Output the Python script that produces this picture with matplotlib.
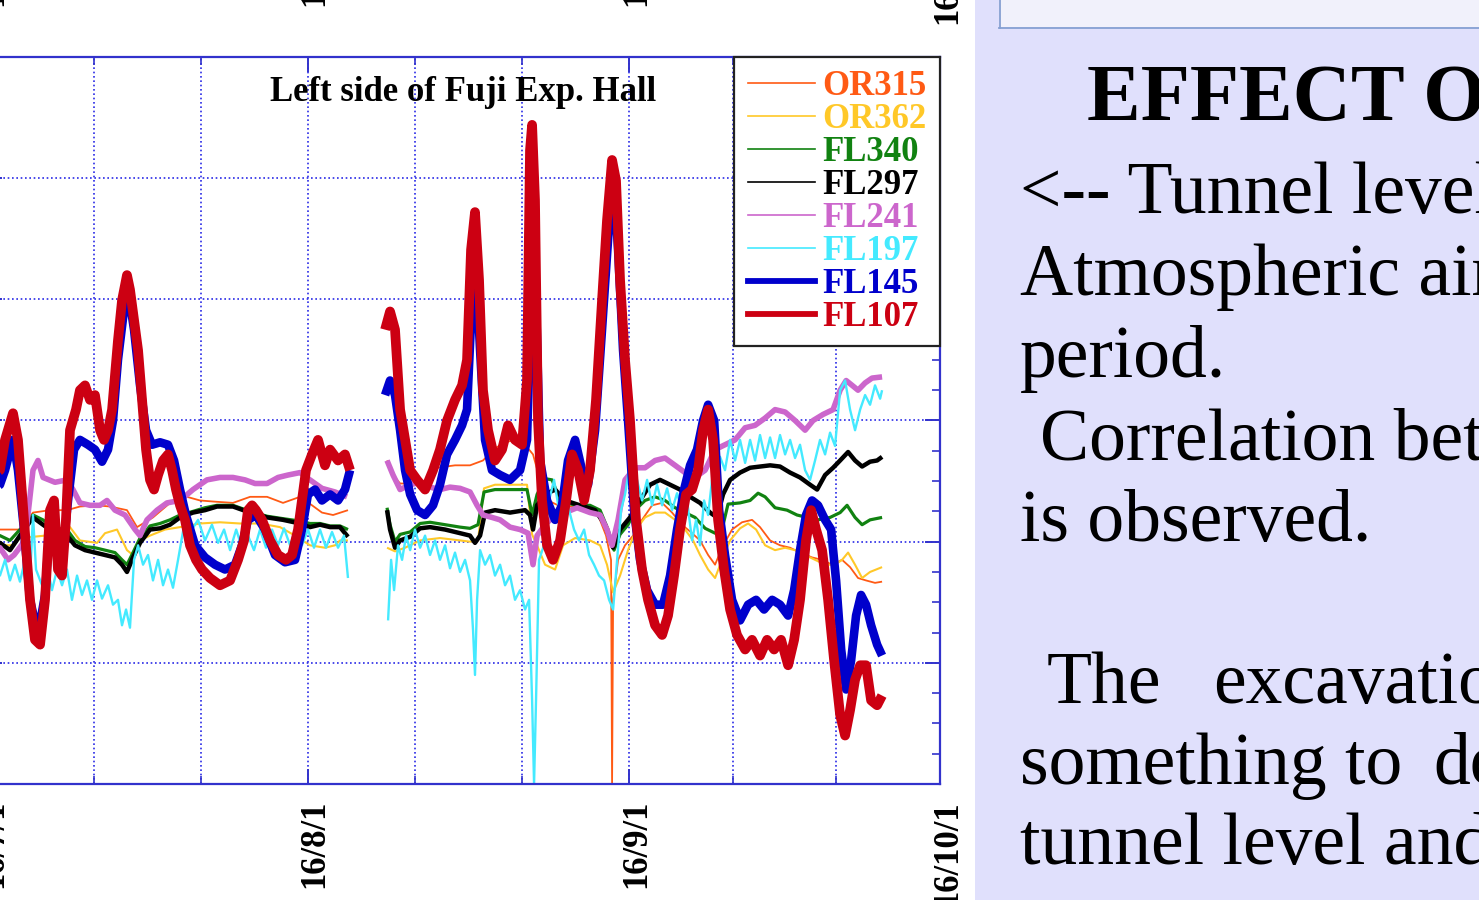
import numpy as np
import matplotlib
matplotlib.use("Agg")
import matplotlib.pyplot as plt
import matplotlib.transforms as mtransforms
from matplotlib.patches import Rectangle
from matplotlib.lines import Line2D
from matplotlib.ticker import MultipleLocator

nan = np.nan

# ---------------- data (x: days since 2016-07-01, y: tunnel level, arbitrary units) -------------
date_labels = ['16/7/1', '16/8/1', '16/9/1', '16/10/1']
date_days = [0, 31, 62, 92]
minor_days = [10.33, 20.67, 41.33, 51.67, 72, 82]

series_names = ['OR315', 'OR362', 'FL340', 'FL297', 'FL241', 'FL197', 'FL145', 'FL107']
series_colors = ['#ff5a14', '#ffc828', '#118211', '#000000', '#cc66cc', '#44eaff', '#0000cc', '#cc0012']

or315_t = [0.0, 1.27, 3.20, 4.46, 6.10, 7.74, 8.99, 10.64, 11.89, 13.53, 14.50, 16.04, 17.97, 19.32, 20.58,
           22.03, 23.76, 25.41, 27.05, 28.59, 30.23, 31.39, 32.35, 33.42, 34.86, nan,
           38.63, 39.21, 39.89, 41.33, 42.78, 43.46, 45.19, 46.64, 47.89, 49.05,
           50.02, 50.98, 51.95, 52.72, 53.40, 54.17, 55.14, 56.29, 57.74, 59.00,
           59.77, 60.25, 60.35, 60.45, 60.93, 61.60, 62.38, 63.24, 64.21, 65.18,
           66.14, 67.10, 68.07, 68.84, 69.62, 70.29, 70.96, 71.93, 72.89, 73.86,
           74.63, 75.60, 76.56, 77.53, 78.49, 79.65, 80.62, 81.58, 82.55, 83.32,
           84.09, 84.86, 85.73, 86.41]
or315_v = [2.08, 2.10, 2.10, 2.24, 2.26, 2.26, 2.29, 2.30, 2.29, 2.26, 2.12, 2.20, 2.34, 2.37, 2.34,
           2.33, 2.32, 2.37, 2.37, 2.32, 2.37, 2.30, 2.24, 2.22, 2.26, nan,
           2.67, 2.55, 2.48, 2.48, 2.49, 2.61, 2.63, 2.63, 2.67, 2.77,
           2.82, 2.84, 2.80, 2.72, 2.51, 2.34, 2.30, 2.29, 2.28, 2.22,
           2.05, 1.85, 0.00, 1.52, 1.85, 1.97, 2.05, 2.18, 2.30, 2.32,
           2.24, 2.14, 2.07, 2.01, 1.89, 1.81, 1.95, 2.10, 2.16, 2.18,
           2.12, 2.01, 1.97, 1.95, 1.91, 1.87, 1.85, 1.81, 1.85, 1.79,
           1.70, 1.68, 1.66, 1.67]

or362_t = [0.0, 1.27, 2.53, 3.20, 4.46, 5.62, 7.07, 8.03, 8.99, 10.64, 11.41, 12.57, 13.53, 14.11, 14.79,
           15.75, 17.20, 18.65, 20.58, 22.51, 24.44, 26.37, 28.30, 29.75, 31.19, 32.64, 33.61, 34.09, 34.86, nan,
           38.63, 39.40, 40.37, 41.82, 43.74, 45.68, 46.64, 47.41, 47.99, 49.05,
           50.50, 52.14, 52.63, 53.11, 53.88, 54.85, 55.62, 56.78, 58.22, 59.19,
           59.86, 60.45, 61.12, 61.89, 62.66, 63.53, 64.50, 65.46, 66.43, 67.39,
           68.17, 68.84, 69.62, 70.29, 70.96, 71.74, 72.70, 73.48, 74.25, 75.12,
           76.08, 77.05, 78.01, 78.98, 79.94, 80.91, 81.87, 82.55, 83.13, 83.80,
           84.48, 85.25, 86.41]
or362_v = [2.01, 1.97, 1.97, 2.03, 2.04, 2.05, 2.08, 2.12, 2.01, 1.99, 2.07, 2.10, 1.93, 1.89, 2.01,
           2.05, 2.10, 2.12, 2.15, 2.16, 2.15, 2.15, 2.12, 2.05, 1.97, 1.95, 1.97, 2.01, 2.01, nan,
           1.95, 1.92, 1.95, 2.01, 2.03, 2.01, 2.00, 2.01, 2.44, 2.47,
           2.47, 2.47, 2.06, 1.97, 1.81, 1.77, 1.97, 2.03, 2.01, 1.97,
           1.81, 1.58, 1.72, 1.93, 2.10, 2.20, 2.24, 2.24, 2.18, 2.10,
           2.01, 1.89, 1.77, 1.70, 1.85, 2.01, 2.11, 2.15, 2.10, 1.97,
           1.93, 1.95, 1.93, 1.89, 1.85, 1.81, 1.81, 1.85, 1.91, 1.81,
           1.70, 1.75, 1.79]

fl340_t = [0.0, 1.27, 2.24, 3.20, 4.46, 5.42, 6.58, 7.74, 8.51, 9.48, 10.44, 11.41, 12.37, 13.05, 13.53,
           14.11, 14.79, 15.75, 16.72, 17.68, 18.65, 19.90, 21.06, 22.22, 23.76, 25.41, 27.05, 28.59, 30.23,
           31.19, 32.16, 33.13, 34.09, 34.86, nan,
           38.63, 38.92, 39.40, 39.89, 40.86, 41.82, 42.78, 44.23, 45.68, 46.64,
           47.41, 47.99, 49.05, 50.50, 52.14, 52.63, 53.11, 53.88, 54.56, 55.33,
           56.78, 58.22, 59.19, 59.96, 60.54, 61.12, 61.89, 62.57, 63.53, 64.50,
           65.46, 66.43, 67.39, 68.36, 69.33, 70.29, 70.96, 71.54, 72.70, 73.67,
           74.44, 75.12, 76.08, 77.24, 78.20, 79.17, 80.23, 81.39, 82.36, 83.03,
           83.80, 84.48, 85.25, 86.41]
fl340_v = [2.05, 2.05, 2.01, 2.10, 2.22, 2.18, 2.11, 2.10, 2.01, 1.96, 1.95, 1.93, 1.91, 1.85, 1.81,
           1.91, 2.03, 2.13, 2.15, 2.18, 2.22, 2.25, 2.28, 2.30, 2.30, 2.25, 2.21, 2.19, 2.17,
           2.15, 2.15, 2.13, 2.13, 2.10, nan,
           2.28, 2.14, 2.00, 2.06, 2.08, 2.15, 2.16, 2.14, 2.12, 2.11,
           2.14, 2.41, 2.43, 2.43, 2.43, 2.22, 2.39, 2.52, 2.51, 2.34,
           2.30, 2.30, 2.26, 2.10, 1.93, 2.06, 2.14, 2.26, 2.34, 2.37,
           2.34, 2.28, 2.24, 2.20, 2.11, 2.07, 2.10, 2.31, 2.32, 2.34,
           2.40, 2.37, 2.28, 2.26, 2.22, 2.20, 2.18, 2.20, 2.24, 2.30,
           2.20, 2.14, 2.18, 2.20]

fl297_t = [0.0, 1.27, 2.24, 3.20, 4.46, 5.42, 6.58, 7.74, 8.51, 9.48, 10.44, 11.41, 12.37, 13.05, 13.53,
           14.11, 14.79, 15.75, 16.72, 17.68, 18.65, 19.90, 21.06, 22.22, 23.76, 25.41, 27.05, 28.59, 30.23,
           31.19, 32.16, 33.13, 34.09, 34.86, nan,
           38.63, 38.92, 39.40, 39.89, 40.86, 41.82, 42.78, 44.23, 45.68, 46.64,
           47.12, 47.61, 48.09, 49.05, 50.50, 51.95, 52.43, 52.72, 53.11, 53.88,
           54.85, 55.81, 57.26, 58.71, 59.67, 60.45, 61.12, 62.08, 63.05, 64.02,
           64.98, 65.95, 66.91, 67.88, 68.84, 69.81, 70.48, 71.06, 71.74, 72.70,
           73.67, 74.63, 75.60, 76.56, 77.53, 78.49, 79.46, 80.14, 80.91, 81.68,
           82.36, 83.13, 83.80, 84.48, 85.25, 85.93, 86.41]
fl297_v = [2.01, 1.99, 1.93, 2.05, 2.20, 2.14, 2.07, 2.05, 1.97, 1.93, 1.91, 1.89, 1.87, 1.81, 1.75,
           1.87, 1.99, 2.10, 2.11, 2.14, 2.20, 2.24, 2.26, 2.29, 2.29, 2.24, 2.20, 2.18, 2.15,
           2.12, 2.14, 2.12, 2.12, 2.04, nan,
           2.26, 2.10, 1.95, 2.01, 2.04, 2.11, 2.12, 2.10, 2.07, 2.05,
           1.99, 2.05, 2.24, 2.26, 2.24, 2.26, 2.22, 2.10, 2.30, 2.39,
           2.43, 2.34, 2.30, 2.26, 2.14, 1.95, 2.10, 2.20, 2.34, 2.47,
           2.51, 2.47, 2.43, 2.37, 2.32, 2.24, 2.20, 2.39, 2.51, 2.57,
           2.61, 2.62, 2.63, 2.62, 2.57, 2.53, 2.47, 2.43, 2.55, 2.61,
           2.67, 2.74, 2.67, 2.62, 2.66, 2.67, 2.70]

fl241_t = [0.0, 1.27, 2.05, 2.63, 3.69, 4.46, 4.94, 5.43, 6.58, 7.74,
           8.32, 8.99, 9.96, 10.93, 11.60, 12.37, 13.34, 14.31, 14.79, 15.46,
           16.43, 17.39, 18.65, 19.90, 21.25, 22.51, 23.76, 24.92, 25.89, 27.05,
           28.11, 29.07, 30.23, 31.19, 32.35, 33.61, 34.77, nan,
           38.63, 39.21, 39.89, 40.86, 41.82, 42.78, 43.74, 44.71, 45.68, 46.64,
           47.32, 47.89, 48.76, 49.54, 50.50, 51.47, 52.24, 52.72, 53.11, 53.88,
           54.85, 55.81, 56.97, 58.22, 59.19, 59.86, 60.35, 60.93, 61.60, 62.57,
           63.53, 64.50, 65.46, 66.43, 67.39, 68.36, 69.33, 70.29, 71.25, 72.22,
           73.19, 74.15, 75.12, 76.08, 77.05, 78.01, 78.98, 79.75, 80.71, 81.68,
           82.36, 82.94, 83.52, 84.09, 84.77, 85.44, 86.41]
fl241_v = [2.01, 1.95, 1.85, 1.89, 2.01, 2.59, 2.67, 2.53, 2.49, 2.51,
           2.43, 2.32, 2.30, 2.30, 2.34, 2.26, 2.22, 2.10, 2.05, 2.18,
           2.26, 2.32, 2.34, 2.43, 2.51, 2.53, 2.53, 2.51, 2.48, 2.48,
           2.53, 2.55, 2.57, 2.51, 2.44, 2.41, 2.37, nan,
           2.67, 2.55, 2.43, 2.47, 2.49, 2.45, 2.43, 2.45, 2.44, 2.41,
           2.30, 2.22, 2.20, 2.18, 2.12, 2.10, 2.07, 1.81, 2.05, 2.14,
           2.22, 2.24, 2.28, 2.24, 2.22, 2.10, 1.97, 2.18, 2.51, 2.61,
           2.61, 2.67, 2.69, 2.63, 2.57, 2.53, 2.59, 2.76, 2.80, 2.84,
           2.94, 2.96, 3.02, 3.09, 3.07, 3.00, 2.92, 3.00, 3.05, 3.09,
           3.25, 3.33, 3.29, 3.25, 3.31, 3.35, 3.36]

fl197_t = [0.0, 1.27, 1.76, 2.24, 2.72, 3.20, 3.69, 4.17, 4.46, 4.75,
           5.33, 5.81, 6.29, 6.78, 7.26, 7.74, 8.22, 8.71, 9.19, 9.67,
           10.15, 10.64, 11.12, 11.70, 12.18, 12.66, 13.05, 13.44, 13.82, 14.21,
           14.60, 15.08, 15.56, 16.04, 16.53, 17.01, 17.49, 17.97, 18.46, 19.13,
           19.80, 20.39, 21.06, 21.73, 22.32, 22.90, 23.48, 24.07, 24.63, 25.21,
           25.79, 26.37, 26.95, 27.53, 28.11, 28.69, 29.27, 29.85, 30.42, 31.00,
           31.58, 32.16, 32.74, 33.32, 33.90, 34.48, 34.86, nan,
           38.73, 39.02, 39.31, 39.69, 40.08, 40.47, 40.86, 41.33, 41.82, 42.30,
           42.78, 43.26, 43.74, 44.23, 44.71, 45.19, 45.68, 46.16, 46.64, 46.93,
           47.12, 47.32, 47.61, 48.09, 48.57, 49.05, 49.54, 50.02, 50.50, 50.98,
           51.47, 51.95, 52.34, 52.63, 52.82, 53.01, 53.30, 53.78, 54.27, 54.75,
           55.23, 55.71, 56.20, 56.68, 57.16, 57.65, 58.13, 58.61, 59.09, 59.58,
           60.06, 60.45, 60.83, 61.22, 61.60, 61.98, 62.38, 62.76, 63.24, 63.73,
           64.21, 64.69, 65.18, 65.66, 66.14, 66.62, 67.10, 67.59, 68.07, 68.46,
           68.84, 69.23, 69.62, 70.00, 70.39, 70.77, 71.25, 71.74, 72.22, 72.70,
           73.19, 73.67, 74.15, 74.63, 75.12, 75.60, 76.08, 76.56, 77.05, 77.53,
           78.01, 78.49, 78.98, 79.46, 79.94, 80.42, 80.91, 81.39, 81.87, 82.36,
           82.84, 83.32, 83.80, 84.29, 84.77, 85.25, 85.73, 86.22, 86.41]
fl197_v = [1.77, 1.72, 1.85, 1.68, 1.81, 1.67, 1.85, 1.70, 2.22, 1.77,
           1.64, 1.81, 1.60, 1.77, 1.64, 1.77, 1.52, 1.72, 1.56, 1.68,
           1.52, 1.68, 1.53, 1.64, 1.48, 1.52, 1.31, 1.44, 1.29, 1.85,
           1.97, 1.81, 1.89, 1.68, 1.85, 1.64, 1.77, 1.62, 1.85, 2.18,
           2.10, 2.18, 2.01, 2.14, 1.99, 2.10, 1.93, 2.10, 1.95, 2.05,
           1.93, 2.10, 1.95, 2.10, 1.97, 2.11, 1.97, 2.11, 1.97, 2.10,
           1.95, 2.10, 1.95, 2.08, 1.95, 2.05, 1.70, nan,
           1.35, 1.85, 1.60, 1.97, 1.85, 2.05, 1.93, 2.10, 1.95, 2.05,
           1.89, 2.01, 1.85, 1.97, 1.78, 1.91, 1.75, 1.85, 1.68, 1.27,
           0.90, 1.52, 1.93, 1.81, 1.89, 1.72, 1.81, 1.64, 1.72, 1.52,
           1.60, 1.44, 1.52, 0.69, 0.00, 0.69, 1.85, 1.97, 2.34, 2.51,
           2.26, 2.39, 2.26, 2.10, 2.01, 2.10, 1.89, 1.81, 1.72, 1.68,
           1.52, 1.44, 1.85, 2.26, 2.39, 2.59, 2.30, 2.51, 2.34, 2.51,
           2.30, 2.47, 2.30, 2.44, 2.26, 2.40, 2.26, 2.34, 2.01, 2.18,
           1.97, 2.34, 2.22, 2.51, 2.34, 2.70, 2.59, 2.84, 2.67, 2.84,
           2.65, 2.84, 2.67, 2.88, 2.69, 2.86, 2.69, 2.88, 2.72, 2.84,
           2.69, 2.80, 2.59, 2.51, 2.67, 2.84, 2.72, 2.90, 2.79, 3.25,
           3.33, 3.09, 2.92, 3.09, 3.21, 3.13, 3.29, 3.18, 3.25]

fl145_t = [0.0, 1.27, 1.76, 2.53, 3.01, 3.59, 4.17, 4.94, 5.62, 6.10,
           6.68, 7.26, 7.84, 8.42, 8.99, 9.77, 10.44, 11.12, 11.70, 12.18,
           12.66, 13.24, 13.63, 14.21, 14.79, 15.37, 15.95, 16.72, 17.49, 18.07,
           18.65, 19.22, 20.10, 21.06, 22.03, 22.99, 23.96, 24.63, 25.21, 25.98,
           26.85, 27.82, 28.78, 29.75, 30.42, 31.00, 31.68, 32.35, 33.13, 33.90,
           34.57, 35.06, nan,
           38.44, 38.92, 39.40, 39.89, 40.37, 40.86, 41.53, 42.30, 43.07, 43.74,
           44.42, 45.19, 45.87, 46.35, 46.83, 47.22, 47.61, 48.09, 48.76, 49.54,
           50.50, 51.47, 52.14, 52.53, 52.72, 53.01, 53.40, 54.07, 54.85, 55.52,
           56.10, 56.78, 57.45, 58.03, 58.71, 59.38, 59.96, 60.45, 60.93, 61.41,
           61.89, 62.47, 63.05, 63.73, 64.50, 65.27, 65.95, 66.62, 67.30, 67.88,
           68.55, 69.13, 69.62, 70.20, 70.68, 71.25, 71.93, 72.70, 73.48, 74.25,
           75.02, 75.80, 76.56, 77.34, 77.92, 78.49, 79.07, 79.65, 80.23, 80.91,
           81.49, 81.97, 82.46, 82.94, 83.42, 83.90, 84.38, 84.86, 85.35, 85.93,
           86.41]
fl145_v = [2.39, 2.47, 2.59, 2.84, 2.59, 2.10, 1.52, 1.23, 1.56, 2.18,
           2.01, 1.85, 2.34, 2.76, 2.84, 2.80, 2.76, 2.66, 2.76, 3.00,
           3.50, 3.91, 4.08, 3.75, 3.29, 2.92, 2.80, 2.82, 2.80, 2.67,
           2.43, 2.22, 1.97, 1.87, 1.81, 1.77, 1.81, 1.97, 2.18, 2.22,
           2.10, 1.89, 1.83, 1.85, 2.10, 2.39, 2.43, 2.34, 2.39, 2.34,
           2.43, 2.59, nan,
           3.21, 3.33, 3.21, 2.92, 2.59, 2.39, 2.26, 2.22, 2.30, 2.47,
           2.72, 2.84, 2.96, 3.09, 3.99, 4.24, 3.58, 2.84, 2.59, 2.55,
           2.51, 2.59, 2.84, 3.99, 4.82, 3.99, 2.67, 2.34, 2.18, 2.30,
           2.67, 2.84, 2.59, 2.47, 2.92, 3.75, 4.49, 5.07, 4.41, 3.58,
           3.00, 2.26, 1.85, 1.60, 1.48, 1.48, 1.72, 2.10, 2.43, 2.63,
           2.76, 3.00, 3.13, 3.00, 2.26, 1.89, 1.52, 1.35, 1.48, 1.52,
           1.44, 1.52, 1.48, 1.39, 1.60, 1.93, 2.22, 2.34, 2.30, 2.18,
           2.10, 1.68, 1.11, 0.78, 1.02, 1.39, 1.56, 1.48, 1.31, 1.15,
           1.06]

fl107_t = [0.0, 1.27, 1.76, 2.53, 3.01, 3.59, 4.17, 4.65, 5.14, 5.62,
           6.10, 6.49, 6.87, 7.26, 7.64, 8.03, 8.61, 8.99, 9.48, 9.96,
           10.44, 10.93, 11.31, 11.70, 12.09, 12.66, 13.05, 13.53, 13.82, 14.21,
           14.60, 14.98, 15.37, 15.75, 16.14, 16.53, 17.01, 17.49, 17.88, 18.26,
           18.65, 19.13, 19.61, 20.19, 20.77, 21.54, 22.51, 23.48, 24.25, 24.83,
           25.21, 25.60, 25.98, 26.56, 27.34, 28.11, 28.88, 29.46, 30.04, 30.42,
           30.81, 31.39, 31.97, 32.64, 33.13, 33.90, 34.57, 35.06, nan,
           38.44, 38.92, 39.40, 39.89, 40.37, 40.86, 41.53, 42.30, 43.07, 43.74,
           44.42, 45.19, 45.87, 46.35, 46.74, 47.12, 47.51, 47.89, 48.38, 49.05,
           49.73, 50.31, 50.98, 51.66, 52.14, 52.43, 52.63, 52.91, 53.20, 53.59,
           54.07, 54.65, 55.33, 55.91, 56.49, 57.07, 57.65, 58.22, 58.80, 59.38,
           59.86, 60.35, 60.73, 61.12, 61.60, 62.08, 62.66, 63.24, 63.82, 64.50,
           65.18, 65.75, 66.33, 66.91, 67.49, 68.07, 68.65, 69.13, 69.62, 70.10,
           70.58, 71.16, 71.74, 72.41, 73.19, 73.86, 74.63, 75.31, 75.99, 76.66,
           77.34, 77.92, 78.49, 79.07, 79.56, 80.04, 80.62, 81.20, 81.78, 82.36,
           82.84, 83.32, 83.80, 84.29, 84.86, 85.35, 85.93, 86.41]
fl107_v = [2.51, 2.59, 2.84, 3.06, 2.84, 2.18, 1.52, 1.19, 1.15, 1.52,
           2.26, 2.34, 1.77, 1.72, 2.18, 2.92, 3.09, 3.25, 3.29, 3.17,
           3.21, 2.92, 2.84, 2.92, 3.09, 3.66, 3.99, 4.20, 4.08, 3.83,
           3.58, 3.17, 2.76, 2.51, 2.43, 2.55, 2.67, 2.72, 2.59, 2.43,
           2.30, 2.18, 1.97, 1.85, 1.77, 1.70, 1.64, 1.68, 1.85, 2.01,
           2.26, 2.30, 2.26, 2.18, 2.01, 1.89, 1.85, 1.89, 2.10, 2.34,
           2.59, 2.72, 2.84, 2.63, 2.76, 2.67, 2.72, 2.59, nan,
           3.75, 3.90, 3.75, 3.09, 2.84, 2.59, 2.51, 2.43, 2.59, 2.76,
           3.00, 3.17, 3.29, 3.50, 4.41, 4.72, 4.16, 3.25, 2.92, 2.67,
           2.76, 2.96, 2.84, 2.80, 3.33, 5.23, 5.44, 4.82, 3.00, 2.34,
           1.97, 1.85, 2.01, 2.34, 2.72, 2.59, 2.34, 2.59, 3.17, 3.99,
           4.65, 5.15, 4.98, 4.16, 3.50, 3.00, 2.18, 1.77, 1.52, 1.31,
           1.23, 1.39, 1.72, 2.10, 2.39, 2.43, 2.59, 2.92, 3.09, 2.84,
           2.18, 1.77, 1.44, 1.23, 1.11, 1.19, 1.06, 1.19, 1.11, 1.19,
           0.98, 1.19, 1.52, 2.01, 2.26, 2.10, 1.93, 1.52, 1.02, 0.57,
           0.40, 0.61, 0.86, 0.98, 0.98, 0.69, 0.65, 0.73]

series_t = [or315_t, or362_t, fl340_t, fl297_t, fl241_t, fl197_t, fl145_t, fl107_t]
series_v = [or315_v, or362_v, fl340_v, fl297_v, fl241_v, fl197_v, fl145_v, fl107_v]

# right-hand slide text: (text, x pixel, baseline pixel)
slide_heading = "EFFECT OF"
slide_words = [("<-- Tunnel level", 1020, 213), ("Atmospheric air", 1020, 295),
               ("period.", 1020, 377), ("Correlation between", 1040, 460),
               ("is observed.", 1020, 541), ("The", 1047, 703), ("excavation", 1213, 703),
               ("something to", 1020, 784), ("do", 1433, 784), ("tunnel level and", 1020, 864)]

# ---------------- styling ----------------
W, H = 1479, 900
line_widths = [1.3, 1.5, 2.3, 3.2, 4.0, 1.7, 6.2, 7.0]
legend_widths = [1.2, 1.2, 1.2, 1.2, 1.2, 1.2, 4.2, 4.2]
axis_blue = '#3232cc'
grid_blue = '#2a2ae6'
serif = ['Liberation Serif', 'DejaVu Serif']

fig = plt.figure(figsize=(W / 100, H / 100), dpi=100)
fig.patch.set_facecolor('white')


def fx(x):
    return x / W


def fy(y):
    return 1 - y / H


# right lavender panel (slide background)
fig.patches.append(Rectangle((fx(975), 0), fx(W - 975), 1, transform=fig.transFigure,
                             facecolor='#e0e0fc', edgecolor='none', zorder=0))
fig.patches.append(Rectangle((fx(999), fy(27)), fx(W - 999), 27 / H, transform=fig.transFigure,
                             facecolor='#f1f1fb', edgecolor='none', zorder=0))
fig.lines.append(Line2D([fx(999), 1], [fy(27.5), fy(27.5)], transform=fig.transFigure,
                        color='#86a0d2', lw=1.3))
fig.lines.append(Line2D([fx(999.5), fx(999.5)], [fy(27.5), 1], transform=fig.transFigure,
                        color='#86a0d2', lw=1.3))

# axes placement (left spine is outside the picture)
ax_left, ax_right, ax_top, ax_bottom = -13.2, 940, 57, 784
ax = fig.add_axes([fx(ax_left), fy(ax_bottom), fx(ax_right - ax_left), (ax_bottom - ax_top) / H])
ax.set_xlim(0, 92)
ax.set_ylim(0, 6)
ax.set_facecolor('white')

for spine in ax.spines.values():
    spine.set_color(axis_blue)
    spine.set_linewidth(1.6)

ax.set_xticks(date_days)
ax.set_xticks(minor_days, minor=True)
ax.set_yticks(np.arange(0, 7))
ax.yaxis.set_minor_locator(MultipleLocator(0.25))
ax.tick_params(which='major', direction='in', length=11, width=1.4, color=axis_blue,
               top=True, right=True, labelbottom=False, labelleft=False)
ax.tick_params(which='minor', direction='in', length=6, width=1.2, color=axis_blue,
               top=True, right=True)
ax.grid(True, which='both', axis='x', color=grid_blue, linestyle=(0, (1, 1.6)), linewidth=1.2)
ax.grid(True, which='major', axis='y', color=grid_blue, linestyle=(0, (1, 1.6)), linewidth=1.2)
ax.set_axisbelow(True)

for t, v, c, lw in zip(series_t, series_v, series_colors, line_widths):
    ax.plot(t, v, color=c, lw=lw, solid_joinstyle='round', solid_capstyle='butt')

# plot title
fig.text(fx(463), fy(101), 'Left side of Fuji Exp. Hall', ha='center', va='baseline',
         fontsize=25, fontweight='bold', family=serif, zorder=5)

# legend box (drawn by hand to match the ROOT layout)
fig.patches.append(Rectangle((fx(734), fy(346)), fx(940 - 734), (346 - 57) / H,
                             transform=fig.transFigure, facecolor='white',
                             edgecolor='#222222', lw=1.6, zorder=8))
for i, (name, c, lw) in enumerate(zip(series_names, series_colors, legend_widths)):
    ry = 83 + 33 * i
    fig.lines.append(Line2D([fx(748), fx(815)], [fy(ry), fy(ry)], transform=fig.transFigure,
                            color=c, lw=lw, zorder=9))
    fig.text(fx(822), fy(ry + 12), name, color=c, fontsize=25, fontweight='bold',
             family=serif, ha='left', va='baseline', zorder=9)

# date labels (bottom of this plot, and the cut-off ones of the plot above)
blend = mtransforms.blended_transform_factory(ax.transData, ax.transAxes)
for d, lab in zip(date_days, date_labels):
    ax.text(d + 0.7, -16 / 727, lab, transform=blend, rotation=90, ha='center', va='top',
            fontsize=25, fontweight='bold', family=serif, clip_on=False)
    ax.text(d + 0.7, (784 + 82) / 727, lab, transform=blend, rotation=90, ha='center', va='top',
            fontsize=25, fontweight='bold', family=serif, clip_on=False)

# slide text on the right
fig.text(fx(1087), fy(120), slide_heading, fontsize=58, fontweight='bold', family=serif,
         ha='left', va='baseline')
for txt, x, y in slide_words:
    fig.text(fx(x), fy(y), txt, fontsize=53, family=serif, ha='left', va='baseline')

fig.savefig('out.png', dpi=100)
